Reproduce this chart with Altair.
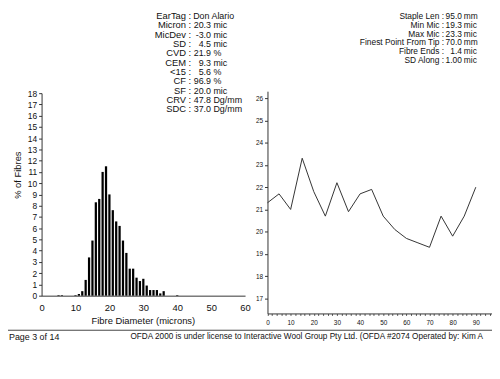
import altair as alt
import pandas as pd

# ---------------- data ----------------
diam = [5, 6, 10, 11, 12, 13, 14, 15, 16, 17, 18, 19, 20, 21, 22, 23, 24, 25,
        26, 27, 28, 29, 30, 31, 32, 33, 34, 35, 36, 40]
pct = [0.05, 0.05, 0.05, 0.15, 0.4, 1.4, 3.4, 4.9, 8.3, 8.6, 11.0, 11.5, 9.0,
       7.6, 6.6, 6.2, 4.9, 3.8, 2.4, 2.4, 1.6, 1.3, 1.5, 0.9, 0.5, 0.5, 0.5,
       0.2, 0.4, 0.05]

pos_mm = [0, 5, 10, 15, 20, 25, 30, 35, 40, 45, 50, 55, 60, 65, 70, 75, 80, 85, 90]
mic = [21.3, 21.7, 21.0, 23.3, 21.8, 20.7, 22.2, 20.9, 21.7, 21.9, 20.7, 20.1,
       19.7, 19.5, 19.3, 20.7, 19.8, 20.7, 22.0]

left_labels = ["EarTag :", "Micron :", "MicDev :", "SD :", "CVD :", "CEM :",
               "<15 :", "CF :", "SF :", "CRV :", "SDC :"]
left_nums = ["", "20.3", "-3.0", "4.5", "21.9", "9.3", "5.6", "96.9", "20.0",
             "47.8", "37.0"]
left_units = ["Don Alario", "mic", "mic", "mic", "%", "mic", "%", "%", "mic",
              "Dg/mm", "Dg/mm"]

right_labels = ["Staple Len :", "Min Mic :", "Max Mic :", "Finest Point From Tip :",
                "Fibre Ends :", "SD Along :"]
right_nums = ["95.0", "19.3", "23.3", "70.0", "1.4", "1.00"]
right_units = ["mm", "mic", "mic", "mm", "mic", "mic"]

footer_left = "Page 3 of 14"
footer_right = ("OFDA 2000 is under license to Interactive Wool Group Pty Ltd. "
                "(OFDA #2074 Operated by: Kim A")

W, H = 490, 360
FONT = "Liberation Sans"
INK = "#111111"

# ---------------- tables ----------------
hist_df = pd.DataFrame({"d": diam, "pct": pct})
hist_df["x0"] = hist_df["d"] - 0.33
hist_df["x1"] = hist_df["d"] + 0.33

line_df = pd.DataFrame({"pos": pos_mm, "mic": mic})

# left histogram region (pixels inside the chart)
HX0, HX1 = 34, 240
HY0, HY1 = 289, 84
# right line region
LX0, LX1 = 262.7, 490
LY0, LY1 = 307, 82

hist = alt.Chart(hist_df).mark_bar(color="black").encode(
    x=alt.X("x0:Q",
            scale=alt.Scale(domain=[0, 60], range=[HX0, HX1], nice=False, zero=False),
            axis=alt.Axis(orient="bottom", offset=-(H - HY0), values=[0, 10, 20, 30, 40, 50, 60],
                          title=None, grid=False, ticks=False, labelPadding=7,
                          labelFontSize=9.5, labelFont=FONT, labelColor=INK,
                          domainColor="#333", labelFlush=False)),
    x2="x1:Q",
    y=alt.Y("pct:Q",
            scale=alt.Scale(domain=[0, 18], range=[HY0, HY1], nice=False),
            axis=alt.Axis(orient="left", offset=-HX0, values=list(range(0, 19)),
                          title=None, grid=False, tickSize=3, labelPadding=2,
                          labelFontSize=8.5, labelFont=FONT, labelColor=INK,
                          domainColor="#333", tickColor="#333")),
    y2=alt.datum(0),
)

line = alt.Chart(line_df).mark_line(color="#333333", strokeWidth=1).encode(
    x=alt.X("pos:Q",
            scale=alt.Scale(domain=[0, 97], range=[LX0, LX1], nice=False, zero=False),
            axis=alt.Axis(orient="bottom", offset=-(H - LY0), values=list(range(0, 97, 2)),
                          labelExpr="datum.value % 10 == 0 ? datum.label : ''",
                          title=None, grid=False, tickSize=2, labelPadding=4,
                          labelFontSize=6.5, labelFont=FONT, labelColor=INK,
                          domainColor="#333", tickColor="#555", labelFlush=False)),
    y=alt.Y("mic:Q",
            scale=alt.Scale(domain=[16.33, 26.31], range=[LY0, LY1], nice=False, zero=False),
            axis=alt.Axis(orient="left", offset=-LX0, values=list(range(17, 27)),
                          title=None, grid=False, tickSize=3, labelPadding=2,
                          labelFontSize=6.5, labelFont=FONT, labelColor=INK,
                          domainColor="#333", tickColor="#333")),
)

layers = [hist, line]

# text blocks
LSTEP = 9.43
for i, (lab, num, unit) in enumerate(zip(left_labels, left_nums, left_units)):
    y = 6 + i * LSTEP
    layers.append(alt.Chart(pd.DataFrame({"t": [lab]})).mark_text(
        align="right", baseline="middle", fontSize=9.5, font=FONT, color=INK
    ).encode(text="t:N", x=alt.value(185.5), y=alt.value(y)))
    if num:
        layers.append(alt.Chart(pd.DataFrame({"t": [num]})).mark_text(
            align="right", baseline="middle", fontSize=9, font=FONT, color=INK
        ).encode(text="t:N", x=alt.value(205.5), y=alt.value(y)))
        layers.append(alt.Chart(pd.DataFrame({"t": [unit]})).mark_text(
            align="left", baseline="middle", fontSize=9, font=FONT, color=INK
        ).encode(text="t:N", x=alt.value(208), y=alt.value(y)))
    else:
        layers.append(alt.Chart(pd.DataFrame({"t": [unit]})).mark_text(
            align="left", baseline="middle", fontSize=9, font=FONT, color=INK
        ).encode(text="t:N", x=alt.value(187.5), y=alt.value(y)))

RSTEP = 8.85
for i, (lab, num, unit) in enumerate(zip(right_labels, right_nums, right_units)):
    y = 6 + i * RSTEP
    layers.append(alt.Chart(pd.DataFrame({"t": [lab]})).mark_text(
        align="right", baseline="middle", fontSize=8.5, font=FONT, color=INK
    ).encode(text="t:N", x=alt.value(441.5), y=alt.value(y)))
    layers.append(alt.Chart(pd.DataFrame({"t": [num]})).mark_text(
        align="right", baseline="middle", fontSize=8.5, font=FONT, color=INK
    ).encode(text="t:N", x=alt.value(459.5), y=alt.value(y)))
    layers.append(alt.Chart(pd.DataFrame({"t": [unit]})).mark_text(
        align="left", baseline="middle", fontSize=8.5, font=FONT, color=INK
    ).encode(text="t:N", x=alt.value(461.5), y=alt.value(y)))

# axis titles of histogram
layers.append(alt.Chart(pd.DataFrame({"t": ["% of Fibres"]})).mark_text(
    align="center", baseline="middle", fontSize=9.5, font=FONT, color=INK, angle=270
).encode(text="t:N", x=alt.value(10), y=alt.value(167)))
layers.append(alt.Chart(pd.DataFrame({"t": ["Fibre Diameter (microns)"]})).mark_text(
    align="center", baseline="middle", fontSize=9.5, font=FONT, color=INK
).encode(text="t:N", x=alt.value(137), y=alt.value(315)))

# page frame line and footer
layers.append(alt.Chart(pd.DataFrame({"a": [0]})).mark_rule(color="#444", strokeWidth=1).encode(
    x=alt.value(0), x2=alt.value(W), y=alt.value(324)))
layers.append(alt.Chart(pd.DataFrame({"t": [footer_left]})).mark_text(
    align="left", baseline="middle", fontSize=9, font=FONT, color=INK
).encode(text="t:N", x=alt.value(1), y=alt.value(330.5)))
layers.append(alt.Chart(pd.DataFrame({"t": [footer_right]})).mark_text(
    align="left", baseline="middle", fontSize=8.3, font=FONT, color=INK
).encode(text="t:N", x=alt.value(124), y=alt.value(330.5)))

chart = alt.layer(*layers).resolve_scale(
    x="independent", y="independent"
).resolve_axis(
    x="independent", y="independent"
).properties(
    width=W, height=H, padding=0, autosize=alt.AutoSizeParams(type="none"),
    background="white"
).configure_view(stroke=None)

chart.save("out.html", embed_options={"renderer": "svg", "actions": False})
